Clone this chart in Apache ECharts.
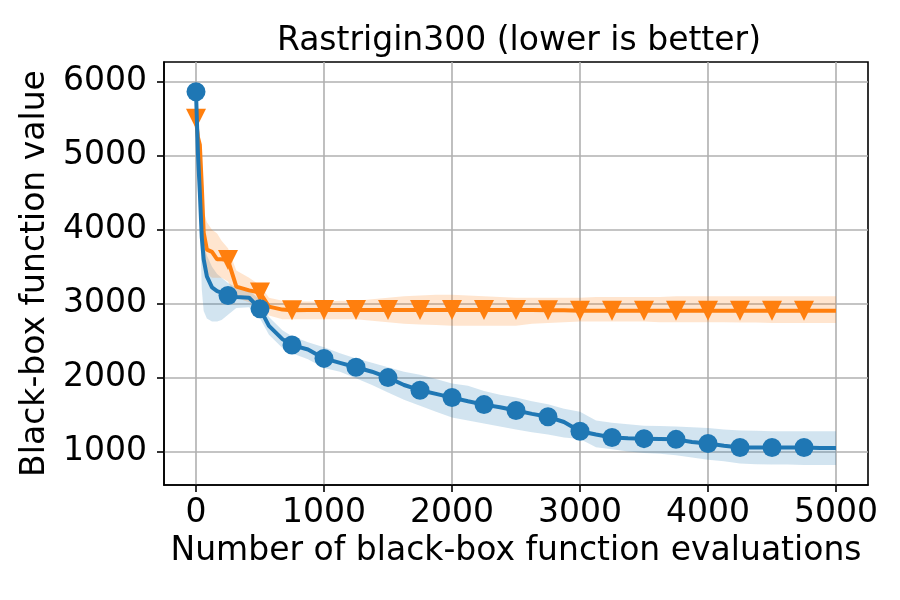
<!DOCTYPE html>
<html>
<head>
<meta charset="utf-8">
<script src="https://cdn.jsdelivr.net/npm/echarts@6.0.0/dist/echarts.min.js"></script>
<style>
  html, body { margin: 0; padding: 0; background: #fff; }
  #main { width: 900px; height: 600px; }
</style>
</head>
<body>
<div id="main"></div>
<script>
var evals = [0, 15, 30, 45, 60, 85, 125, 165, 200, 250, 315, 415, 500, 570, 675, 750,
  875, 1000, 1125, 1250, 1375, 1500, 1625, 1750, 1875, 2000, 2125, 2250, 2375, 2500, 2625, 2750,
  2875, 3000, 3125, 3250, 3375, 3500, 3625, 3750, 3875, 4000, 4125, 4250, 4375, 4500, 4625, 4750,
  4875, 5000];

// blue series (circles)
var blueMean = [5865, 5040, 4500, 3900, 3600, 3370, 3220, 3170, 3150, 3110, 3090, 3080, 2930, 2700, 2520, 2440,
  2380, 2260, 2200, 2140, 2080, 2000, 1900, 1830, 1780, 1730, 1680, 1635, 1600, 1555, 1510, 1470,
  1400, 1275, 1230, 1190, 1180, 1175, 1170, 1165, 1130, 1110, 1080, 1055, 1055, 1055, 1055, 1055,
  1050, 1050];
var blueLow = [5865, 4800, 4200, 3200, 2900, 2800, 2760, 2760, 2780, 2850, 2940, 2950, 2800, 2580, 2400, 2330,
  2250, 2130, 2080, 1990, 1900, 1800, 1700, 1620, 1540, 1460, 1420, 1380, 1340, 1300, 1260, 1230,
  1190, 1170, 1060, 1030, 1000, 980, 970, 950, 920, 890, 870, 840, 830, 825, 825, 820,
  820, 820];
var blueHigh = [5865, 5300, 4900, 4200, 3800, 3650, 3500, 3400, 3350, 3280, 3220, 3180, 3050, 2820, 2640, 2560,
  2480, 2410, 2330, 2260, 2200, 2140, 2080, 2040, 1980, 1920, 1890, 1820, 1770, 1730, 1680, 1640,
  1580, 1540, 1420, 1390, 1370, 1350, 1345, 1340, 1330, 1320, 1300, 1285, 1280, 1275, 1275, 1275,
  1275, 1275];

// orange series (triangles)
var orangeMean = [5500, 5250, 5150, 4600, 3960, 3730, 3700, 3600, 3600, 3590, 3230, 3180, 3150, 2960, 2920, 2910,
  2915, 2915, 2915, 2915, 2915, 2915, 2915, 2915, 2915, 2915, 2915, 2915, 2915, 2915, 2915, 2910,
  2910, 2905, 2905, 2905, 2905, 2905, 2905, 2905, 2905, 2905, 2905, 2905, 2905, 2905, 2905, 2905,
  2905, 2905];
var orangeLow = [5500, 5100, 4900, 4200, 3500, 3400, 3350, 3350, 3350, 3300, 3080, 3020, 3000, 2840, 2790, 2790,
  2790, 2790, 2790, 2790, 2770, 2750, 2730, 2720, 2710, 2700, 2700, 2700, 2700, 2700, 2730, 2740,
  2750, 2760, 2760, 2760, 2760, 2760, 2750, 2750, 2750, 2750, 2750, 2745, 2745, 2740, 2740, 2740,
  2740, 2740];
var orangeHigh = [5500, 5400, 5300, 4900, 4250, 4100, 4000, 3950, 3850, 3750, 3450, 3350, 3250, 3080, 3040, 3030,
  3030, 3030, 3040, 3040, 3060, 3080, 3100, 3110, 3120, 3120, 3110, 3100, 3090, 3080, 3080, 3080,
  3080, 3080, 3090, 3090, 3090, 3090, 3090, 3100, 3100, 3100, 3100, 3100, 3100, 3100, 3100, 3100,
  3100, 3100];

var xTicks = [0, 1000, 2000, 3000, 4000, 5000];
var yTicks = [1000, 2000, 3000, 4000, 5000, 6000];
var markerStep = 250;
var lastMarker = 4750;

var BLUE = '#1f77b4', ORANGE = '#ff7f0e';
var FONT = 'DejaVu Sans';

function pairs(ys) {
  return evals.map(function (x, i) { return [x, ys[i]]; });
}

// shaded band between low and high, drawn through the axis scales
function band(low, high, color) {
  return {
    type: 'custom',
    silent: true,
    z: 1,
    data: [[evals[0], low[0]]],
    renderItem: function (params, api) {
      var pts = [];
      for (var i = 0; i < evals.length; i++) pts.push(api.coord([evals[i], high[i]]));
      for (var j = evals.length - 1; j >= 0; j--) pts.push(api.coord([evals[j], low[j]]));
      return {
        type: 'polygon',
        shape: { points: pts },
        style: { fill: color, stroke: null }
      };
    }
  };
}

function markerSize(size) {
  return function (val) {
    return (val[0] % markerStep === 0 && val[0] <= lastMarker) ? size : 0;
  };
}

var chart = echarts.init(document.getElementById('main'));
chart.setOption({
  animation: false,
  backgroundColor: '#fff',
  textStyle: { fontFamily: FONT },
  title: {
    text: 'Rastrigin300 (lower is better)',
    left: 514, top: 20, textAlign: 'center',
    textStyle: { fontFamily: FONT, fontSize: 33, fontWeight: 'normal', color: '#000' }
  },
  grid: {
    left: 164, right: 32, top: 62, bottom: 115,
    show: true, borderColor: '#000', borderWidth: 1.6, backgroundColor: 'transparent'
  },
  xAxis: {
    type: 'value',
    min: -250, max: 5250,
    name: 'Number of black-box function evaluations',
    nameLocation: 'middle', nameGap: 50,
    nameTextStyle: { fontFamily: FONT, fontSize: 33, color: '#000' },
    axisLine: { show: true, onZero: false, lineStyle: { color: '#000', width: 1.6 } },
    axisTick: { show: true, length: 7, customValues: xTicks, lineStyle: { color: '#000', width: 1.6 } },
    axisLabel: { customValues: xTicks, margin: 12, fontFamily: FONT, fontSize: 33, color: '#000',
      formatter: function (v) { return String(v); } },
    splitLine: { show: true, lineStyle: { color: '#b0b0b0', width: 1.6 } }
  },
  yAxis: {
    type: 'value',
    min: 548, max: 6268,
    name: 'Black-box function value',
    nameLocation: 'middle', nameGap: 97,
    nameTextStyle: { fontFamily: FONT, fontSize: 33, color: '#000' },
    axisLine: { show: true, onZero: false, lineStyle: { color: '#000', width: 1.6 } },
    axisTick: { show: true, length: 7, customValues: yTicks, lineStyle: { color: '#000', width: 1.6 } },
    axisLabel: { customValues: yTicks, margin: 17, fontFamily: FONT, fontSize: 33, color: '#000',
      formatter: function (v) { return String(v); } },
    splitLine: { show: true, lineStyle: { color: '#b0b0b0', width: 1.6 } }
  },
  series: [
    band(blueLow, blueHigh, 'rgba(31,119,180,0.2)'),
    band(orangeLow, orangeHigh, 'rgba(255,127,14,0.2)'),
    {
      type: 'line',
      z: 3,
      data: pairs(orangeMean),
      symbol: 'triangle',
      symbolRotate: 180,
      symbolSize: markerSize(20),
      showAllSymbol: true,
      itemStyle: { color: ORANGE },
      lineStyle: { color: ORANGE, width: 4 }
    },
    {
      type: 'line',
      z: 4,
      data: pairs(blueMean),
      symbol: 'circle',
      symbolSize: markerSize(19),
      showAllSymbol: true,
      itemStyle: { color: BLUE },
      lineStyle: { color: BLUE, width: 4 }
    }
  ]
});
</script>
</body>
</html>
